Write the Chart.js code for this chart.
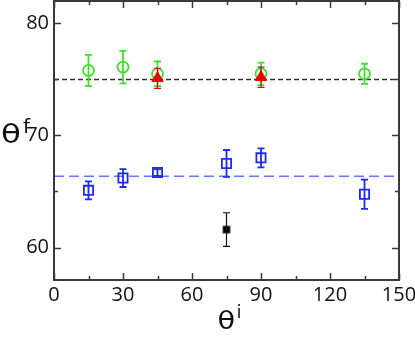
<!DOCTYPE html>
<html>
<head>
<meta charset="utf-8">
<script src="https://cdn.jsdelivr.net/npm/chart.js@4/dist/chart.umd.min.js"></script>
<style>
  html, body { margin: 0; padding: 0; background: #fff; }
  #wrap { width: 415px; height: 337px; }
</style>
</head>
<body>
<div id="wrap"><canvas id="chart" width="415" height="337"></canvas></div>
<script>
// axis ticks
const xTicks = [0, 30, 60, 90, 120, 150];
const xMinorTicks = [15, 45, 75, 105, 135];
const yTicks = [60, 70, 80];
const yMinorTicks = [65, 75];

// data
const greenX = [15, 30, 45, 90, 135];
const greenY = [75.8, 76.1, 75.5, 75.5, 75.5];
const greenErr = [1.4, 1.45, 1.1, 1.0, 0.9];

const redX = [45, 90];
const redY = [75.1, 75.2];
const redErr = [0.9, 0.9];

const blueX = [15, 30, 45, 75, 90, 135];
const blueY = [65.1, 66.2, 66.7, 67.5, 68.0, 64.75];
const blueErr = [0.8, 0.8, 0.3, 1.2, 0.85, 1.3];

const blackX = [75];
const blackY = [61.6];
const blackErr = [1.5];

const greenMean = 75.0;
const blueMean = 66.35;

const toPoints = (xs, ys) => xs.map((x, i) => ({ x, y: ys[i] }));

// Draw error bars right after each dataset so the layering stays right
const errorBarPlugin = {
  id: 'errorBars',
  afterDatasetDraw(chart, args) {
    const ds = chart.data.datasets[args.index];
    if (!ds.errors) return;
    const ctx = chart.ctx;
    const yScale = chart.scales.y;
    const meta = args.meta;
    ctx.save();
    ctx.strokeStyle = ds.errorColor;
    ctx.lineWidth = ds.errorWidth;
    meta.data.forEach((pt, i) => {
      const v = ds.data[i].y;
      const e = ds.errors[i];
      const top = yScale.getPixelForValue(v + e);
      const bot = yScale.getPixelForValue(v - e);
      const cap = ds.capWidth / 2;
      ctx.beginPath();
      ctx.moveTo(pt.x, top);
      ctx.lineTo(pt.x, bot);
      ctx.moveTo(pt.x - cap, top);
      ctx.lineTo(pt.x + cap, top);
      ctx.moveTo(pt.x - cap, bot);
      ctx.lineTo(pt.x + cap, bot);
      ctx.stroke();
    });
    ctx.restore();
  }
};

// Box frame with inward ticks on all four sides, plus the axis titles
const framePlugin = {
  id: 'frame',
  afterDraw(chart) {
    const ctx = chart.ctx;
    const { left, right, top, bottom } = chart.chartArea;
    const xs = chart.scales.x;
    const ys = chart.scales.y;
    ctx.save();
    ctx.strokeStyle = '#3a3a3a';
    ctx.lineWidth = 2;
    ctx.strokeRect(left, top, right - left, bottom - top);

    ctx.lineWidth = 1.5;
    ctx.beginPath();
    const xTick = (vals, len) => vals.forEach(v => {
      const px = Math.round(xs.getPixelForValue(v)) + 0.5;
      ctx.moveTo(px, bottom); ctx.lineTo(px, bottom - len);
      ctx.moveTo(px, top); ctx.lineTo(px, top + len);
    });
    const yTick = (vals, len) => vals.forEach(v => {
      const py = Math.round(ys.getPixelForValue(v)) + 0.5;
      ctx.moveTo(left, py); ctx.lineTo(left + len, py);
      ctx.moveTo(right, py); ctx.lineTo(right - len, py);
    });
    xTick(xTicks, 7);
    xTick(xMinorTicks, 4);
    yTick(yTicks, 7);
    yTick(yMinorTicks, 4);
    ctx.stroke();

    // titles (theta is a bit rounder in the original, so stretch it a little)
    ctx.fillStyle = '#111';
    ctx.textBaseline = 'alphabetic';
    ctx.textAlign = 'left';
    ctx.save();
    ctx.translate(1, 143);
    ctx.scale(1.25, 1);
    ctx.font = '26px "DejaVu Sans"';
    ctx.fillText('θ', 0, 0);
    ctx.restore();
    ctx.font = '20px "DejaVu Sans"';
    ctx.fillText('f', 23, 133);

    const cx = (left + right) / 2;
    ctx.save();
    ctx.translate(cx - 9, 329);
    ctx.scale(1.15, 1);
    ctx.font = '25px "DejaVu Sans"';
    ctx.fillText('θ', 0, 0);
    ctx.restore();
    ctx.font = '18px "DejaVu Sans"';
    ctx.fillText('i', cx + 10, 318);
    ctx.restore();
  }
};

const tickFont = { family: 'Open Sans', size: 20 };

new Chart(document.getElementById('chart'), {
  type: 'scatter',
  data: {
    datasets: [
      {
        label: 'red',
        data: toPoints(redX, redY),
        pointStyle: 'triangle',
        pointRadius: 6.5,
        backgroundColor: '#ee0000',
        borderColor: '#ee0000',
        borderWidth: 1,
        errors: redErr, errorColor: '#e00000', errorWidth: 1.2, capWidth: 7
      },
      {
        label: 'black',
        data: toPoints(blackX, blackY),
        pointStyle: 'rect',
        pointRadius: 5,
        backgroundColor: '#000',
        borderColor: '#555',
        borderWidth: 1,
        errors: blackErr, errorColor: '#111', errorWidth: 1.2, capWidth: 7
      },
      {
        label: 'green',
        data: toPoints(greenX, greenY),
        pointStyle: 'circle',
        pointRadius: 5.5,
        backgroundColor: 'rgba(0,0,0,0)',
        borderColor: '#3fe22a',
        borderWidth: 1.8,
        errors: greenErr, errorColor: '#3fe22a', errorWidth: 1.8, capWidth: 7
      },
      {
        label: 'blue',
        data: toPoints(blueX, blueY),
        pointStyle: 'rect',
        pointRadius: 6.5,
        backgroundColor: 'rgba(0,0,0,0)',
        borderColor: '#1f2cf0',
        borderWidth: 1.8,
        errors: blueErr, errorColor: '#1f2cf0', errorWidth: 1.8, capWidth: 7
      },
      {
        label: 'green mean',
        type: 'line',
        data: [{ x: 0, y: greenMean }, { x: 150, y: greenMean }],
        borderColor: '#333',
        borderWidth: 1.5,
        borderDash: [5, 3],
        pointRadius: 0
      },
      {
        label: 'blue mean',
        type: 'line',
        data: [{ x: 0, y: blueMean }, { x: 150, y: blueMean }],
        borderColor: '#6677ff',
        borderWidth: 1.5,
        borderDash: [10, 5],
        pointRadius: 0
      }
    ]
  },
  options: {
    responsive: false,
    animation: false,
    events: [],
    layout: { autoPadding: false, padding: { left: 0, right: 16, top: 1, bottom: 0 } },
    plugins: {
      legend: { display: false },
      tooltip: { enabled: false }
    },
    scales: {
      x: {
        type: 'linear',
        min: 0,
        max: 150,
        afterBuildTicks: s => { s.ticks = xTicks.map(v => ({ value: v })); },
        afterFit: s => { s.height = 57; s.paddingLeft = 0; s.paddingRight = 0; },
        grid: { display: false, drawTicks: false },
        border: { display: false },
        ticks: { color: '#111', font: tickFont, padding: 3, maxRotation: 0 }
      },
      y: {
        type: 'linear',
        min: 57.1,
        max: 82,
        afterBuildTicks: s => { s.ticks = yTicks.map(v => ({ value: v })); },
        afterFit: s => { s.width = 54; s.paddingTop = 0; s.paddingBottom = 0; },
        grid: { display: false, drawTicks: false },
        border: { display: false },
        ticks: { color: '#111', font: tickFont, padding: 5 }
      }
    }
  },
  plugins: [errorBarPlugin, framePlugin]
});
</script>
</body>
</html>
